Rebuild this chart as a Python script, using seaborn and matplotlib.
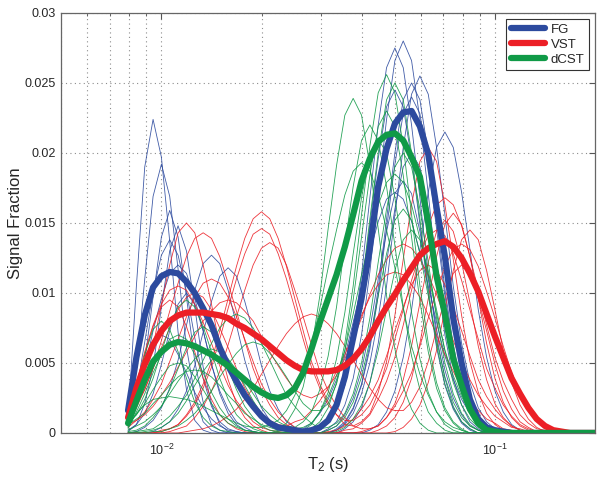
import pandas as pd
import seaborn as sns
import matplotlib
matplotlib.use("Agg")
import matplotlib.pyplot as plt
from matplotlib.lines import Line2D
from matplotlib.ticker import FixedLocator, LogLocator, NullFormatter

# ================================
# 1. Data
# ================================
# T2 sample points (s)
t2 = [0.007943, 0.008414, 0.008913, 0.009441, 0.01, 0.01059, 0.01122, 0.01189, 0.01259, 0.01334,
      0.01413, 0.01496, 0.01585, 0.01679, 0.01778, 0.01884, 0.01995, 0.02113, 0.02239, 0.02371,
      0.02512, 0.02661, 0.02818, 0.02985, 0.03162, 0.0335, 0.03548, 0.03758, 0.03981, 0.04217,
      0.04467, 0.04732, 0.05012, 0.05309, 0.05623, 0.05957, 0.0631, 0.06683, 0.07079, 0.07499,
      0.07943, 0.08414, 0.08913, 0.09441, 0.1, 0.1059, 0.1122, 0.1189, 0.1259, 0.1334,
      0.1413, 0.1496, 0.1585, 0.1679, 0.1778, 0.1884, 0.1995]

# signal fraction, in units of 1e-4
fg_mean = [16, 54, 84, 104, 112, 115, 114, 108, 100, 89, 77, 61, 48, 37, 27, 19, 12, 7, 4, 3,
           2, 1, 2, 4, 9, 20, 40, 68, 96, 132, 176, 203, 221, 229, 230, 219, 199, 161, 126, 82,
           50, 24, 10, 4, 2, 1, 0, 0, 0, 0, 0, 0, 0, 0, 0, 0, 0]
vst_mean = [11, 32, 49, 63, 73, 80, 84, 86, 86, 86, 85, 84, 82, 78, 75, 71, 67, 62, 57, 52,
            48, 45, 44, 44, 44, 45, 48, 53, 60, 69, 80, 90, 99, 109, 118, 127, 132, 135, 137, 133,
            125, 114, 101, 85, 69, 54, 39, 28, 18, 10, 5, 2, 1, 0, 0, 0, 0]
dcst_mean = [7, 23, 38, 51, 58, 63, 65, 64, 62, 59, 56, 52, 48, 43, 38, 33, 29, 26, 25, 27,
             32, 43, 60, 79, 96, 113, 133, 156, 180, 196, 208, 213, 214, 209, 197, 183, 150, 112, 85, 53,
             34, 17, 7, 2, 1, 0, 0, 0, 0, 0, 0, 0, 0, 0, 0, 0, 0]

# individual subjects (units of 1e-4)
fg_curves = [
    [10, 105, 190, 224, 197, 137, 72, 31, 9, 2, 0, 0, 0, 0, 0, 0, 0, 0, 0, 0,
     0, 0, 0, 0, 0, 2, 6, 14, 28, 50, 82, 122, 160, 190, 200, 190, 160, 122, 82, 50,
     28, 14, 6, 2, 0, 0, 0, 0, 0, 0, 0, 0, 0, 0, 0, 0, 0],
    [5, 45, 110, 169, 192, 169, 117, 61, 27, 8, 2, 0, 0, 0, 0, 0, 0, 0, 0, 0,
     0, 0, 0, 0, 2, 5, 13, 25, 45, 74, 110, 144, 171, 180, 171, 144, 110, 74, 45, 25,
     13, 5, 2, 0, 0, 0, 0, 0, 0, 0, 0, 0, 0, 0, 0, 0, 0],
    [6, 22, 51, 97, 140, 159, 140, 97, 51, 22, 6, 2, 0, 0, 0, 0, 0, 0, 0, 0,
     0, 0, 0, 0, 3, 8, 20, 39, 70, 115, 171, 224, 266, 280, 266, 224, 171, 115, 70, 39,
     20, 8, 3, 0, 0, 0, 0, 0, 0, 0, 0, 0, 0, 0, 0, 0, 0],
    [6, 30, 65, 101, 127, 138, 127, 101, 68, 39, 19, 8, 3, 1, 0, 0, 0, 0, 0, 0,
     0, 0, 0, 3, 8, 19, 39, 69, 113, 168, 220, 261, 275, 261, 220, 168, 113, 69, 39, 19,
     8, 3, 0, 0, 0, 0, 0, 0, 0, 0, 0, 0, 0, 0, 0, 0, 0],
    [1, 6, 21, 47, 90, 130, 148, 130, 90, 47, 21, 6, 1, 0, 0, 0, 0, 0, 0, 0,
     0, 0, 0, 0, 0, 0, 3, 8, 18, 36, 64, 105, 156, 204, 242, 255, 242, 204, 156, 105,
     64, 36, 18, 8, 3, 0, 0, 0, 0, 0, 0, 0, 0, 0, 0, 0, 0],
    [5, 22, 46, 73, 96, 114, 120, 114, 96, 73, 49, 30, 17, 8, 4, 1, 0, 0, 0, 0,
     0, 0, 0, 0, 0, 3, 8, 18, 35, 63, 103, 153, 200, 238, 250, 238, 200, 153, 103, 63,
     35, 18, 8, 3, 0, 0, 0, 0, 0, 0, 0, 0, 0, 0, 0, 0, 0],
    [0, 1, 4, 9, 18, 32, 52, 77, 102, 121, 127, 121, 102, 77, 52, 32, 18, 9, 4, 1,
     0, 0, 0, 2, 7, 17, 34, 61, 100, 149, 196, 233, 245, 233, 196, 149, 100, 61, 34, 17,
     7, 2, 0, 0, 0, 0, 0, 0, 0, 0, 0, 0, 0, 0, 0, 0, 0],
    [0, 0, 0, 1, 4, 8, 17, 30, 48, 72, 94, 112, 118, 112, 94, 72, 48, 30, 17, 8,
     4, 1, 0, 0, 0, 0, 0, 0, 0, 2, 6, 15, 30, 54, 88, 131, 172, 204, 215, 204,
     172, 131, 88, 54, 30, 15, 6, 2, 0, 0, 0, 0, 0, 0, 0, 0, 0],
    [2, 6, 14, 28, 49, 73, 92, 100, 92, 73, 49, 28, 14, 6, 2, 1, 0, 0, 0, 0,
     2, 3, 7, 14, 24, 38, 55, 79, 105, 129, 151, 167, 172, 167, 151, 129, 105, 79, 55, 38,
     24, 14, 7, 3, 2, 0, 0, 0, 0, 0, 0, 0, 0, 0, 0, 0, 0],
    [8, 30, 50, 65, 70, 67, 56, 43, 29, 18, 10, 5, 2, 1, 0, 0, 0, 0, 0, 0,
     0, 0, 0, 0, 0, 2, 7, 17, 34, 60, 98, 146, 192, 228, 240, 228, 192, 146, 98, 60,
     34, 17, 7, 2, 0, 0, 0, 0, 0, 0, 0, 0, 0, 0, 0, 0, 0],
]

vst_curves = [
    [11, 21, 38, 62, 92, 120, 143, 150, 143, 120, 92, 62, 38, 21, 11, 5, 2, 0, 0, 0,
     0, 0, 0, 0, 0, 0, 2, 3, 7, 13, 24, 37, 54, 77, 102, 126, 148, 163, 168, 163,
     148, 126, 102, 77, 54, 37, 24, 13, 7, 3, 2, 0, 0, 0, 0, 0, 0],
    [11, 20, 31, 46, 66, 87, 107, 126, 139, 143, 139, 126, 107, 87, 66, 46, 31, 20, 11, 6,
     3, 1, 0, 0, 0, 0, 0, 0, 0, 0, 2, 5, 11, 22, 39, 64, 96, 126, 149, 157,
     149, 126, 96, 64, 39, 22, 11, 5, 2, 0, 0, 0, 0, 0, 0, 0, 0],
    [0, 0, 0, 0, 2, 3, 6, 13, 22, 35, 51, 73, 96, 119, 139, 153, 158, 153, 139, 119,
     96, 73, 51, 35, 22, 13, 6, 5, 8, 14, 29, 51, 84, 124, 163, 194, 204, 194, 163, 124,
     84, 51, 29, 14, 6, 2, 0, 0, 0, 0, 0, 0, 0, 0, 0, 0, 0],
    [0, 0, 0, 0, 1, 3, 6, 12, 20, 32, 47, 67, 89, 110, 128, 142, 146, 142, 128, 110,
     89, 67, 47, 32, 20, 13, 9, 9, 13, 20, 32, 46, 67, 88, 109, 128, 141, 145, 141, 128,
     109, 88, 67, 46, 32, 20, 12, 6, 3, 1, 0, 0, 0, 0, 0, 0, 0],
    [0, 0, 0, 0, 0, 1, 3, 5, 11, 19, 30, 44, 63, 83, 102, 120, 132, 136, 132, 120,
     102, 83, 63, 44, 30, 19, 11, 5, 3, 3, 5, 11, 21, 38, 62, 93, 122, 144, 152, 144,
     122, 93, 62, 38, 21, 11, 5, 2, 0, 0, 0, 0, 0, 0, 0, 0, 0],
    [8, 35, 58, 77, 92, 102, 105, 102, 92, 79, 64, 48, 34, 23, 15, 8, 4, 2, 1, 0,
     0, 0, 0, 0, 0, 0, 0, 0, 1, 3, 5, 11, 19, 30, 43, 62, 82, 101, 119, 131,
     135, 131, 119, 101, 82, 62, 43, 30, 19, 11, 5, 3, 1, 0, 0, 0, 0],
    [5, 18, 31, 46, 61, 75, 88, 97, 100, 97, 88, 75, 61, 46, 32, 22, 14, 9, 6, 5,
     8, 10, 16, 23, 32, 44, 56, 70, 84, 97, 106, 113, 115, 113, 106, 97, 84, 70, 56, 44,
     32, 23, 16, 10, 7, 3, 2, 1, 0, 0, 0, 0, 0, 0, 0, 0, 0],
    [4, 9, 15, 24, 35, 51, 67, 83, 97, 107, 110, 107, 97, 83, 67, 51, 35, 24, 15, 9,
     4, 2, 1, 0, 1, 2, 5, 10, 17, 26, 38, 55, 73, 90, 106, 116, 120, 116, 106, 90,
     73, 55, 38, 26, 17, 10, 5, 2, 1, 0, 0, 0, 0, 0, 0, 0, 0],
    [6, 9, 13, 19, 27, 36, 47, 58, 69, 80, 87, 93, 95, 93, 87, 80, 69, 58, 48, 39,
     31, 27, 25, 28, 33, 41, 53, 67, 82, 99, 113, 124, 132, 135, 132, 124, 113, 99, 82, 66,
     51, 38, 27, 19, 12, 8, 4, 3, 1, 0, 0, 0, 0, 0, 0, 0, 0],
    [6, 32, 56, 76, 90, 95, 90, 76, 58, 39, 24, 13, 7, 3, 1, 0, 0, 0, 0, 0,
     0, 0, 0, 0, 0, 0, 0, 0, 0, 0, 0, 0, 1, 4, 10, 20, 36, 59, 88, 116,
     138, 145, 138, 116, 88, 59, 36, 20, 10, 4, 1, 0, 0, 0, 0, 0, 0],
    [0, 0, 0, 0, 0, 0, 0, 1, 2, 3, 5, 8, 12, 17, 24, 32, 42, 52, 62, 71,
     78, 83, 85, 83, 78, 71, 62, 52, 42, 32, 24, 18, 16, 16, 22, 33, 51, 74, 96, 114,
     120, 114, 96, 73, 49, 30, 17, 8, 4, 1, 0, 0, 0, 0, 0, 0, 0],
]

dcst_curves = [
    [7, 13, 24, 39, 58, 76, 90, 95, 90, 76, 58, 39, 24, 13, 7, 3, 1, 0, 0, 0,
     0, 0, 3, 8, 18, 36, 64, 105, 156, 205, 243, 256, 243, 205, 156, 105, 64, 36, 18, 8,
     3, 0, 0, 0, 0, 0, 0, 0, 0, 0, 0, 0, 0, 0, 0, 0, 0],
    [1, 2, 5, 11, 19, 31, 46, 61, 72, 76, 72, 61, 46, 31, 19, 11, 5, 2, 1, 0,
     0, 0, 0, 3, 8, 18, 35, 63, 103, 153, 200, 238, 250, 238, 200, 153, 103, 63, 35, 18,
     8, 3, 0, 0, 0, 0, 0, 0, 0, 0, 0, 0, 0, 0, 0, 0, 0],
    [7, 13, 21, 31, 40, 48, 50, 48, 40, 31, 21, 13, 7, 4, 2, 1, 0, 0, 2, 7,
     17, 33, 60, 98, 146, 191, 227, 239, 227, 191, 146, 98, 60, 33, 17, 7, 2, 0, 0, 0,
     0, 0, 0, 0, 0, 0, 0, 0, 0, 0, 0, 0, 0, 0, 0, 0, 0],
    [2, 5, 8, 13, 19, 28, 37, 45, 53, 58, 60, 58, 53, 45, 37, 28, 19, 13, 8, 5,
     4, 8, 15, 31, 55, 90, 134, 176, 209, 220, 209, 176, 134, 90, 55, 31, 15, 7, 2, 0,
     0, 0, 0, 0, 0, 0, 0, 0, 0, 0, 0, 0, 0, 0, 0, 0, 0],
    [4, 14, 20, 24, 25, 26, 25, 24, 22, 19, 16, 13, 10, 7, 5, 4, 4, 6, 9, 16,
     27, 42, 62, 89, 118, 145, 170, 187, 193, 187, 170, 145, 118, 89, 62, 42, 27, 15, 8, 4,
     2, 0, 0, 0, 0, 0, 0, 0, 0, 0, 0, 0, 0, 0, 0, 0, 0],
    [0, 1, 2, 3, 7, 12, 19, 27, 39, 52, 64, 75, 82, 85, 82, 75, 64, 52, 39, 27,
     19, 12, 7, 3, 4, 7, 14, 28, 50, 82, 122, 160, 190, 200, 190, 160, 122, 82, 50, 28,
     14, 6, 2, 0, 0, 0, 0, 0, 0, 0, 0, 0, 0, 0, 0, 0, 0],
    [3, 15, 28, 43, 56, 67, 70, 67, 56, 43, 29, 18, 10, 5, 2, 1, 0, 0, 0, 0,
     0, 0, 0, 0, 2, 5, 11, 22, 40, 66, 98, 128, 152, 160, 152, 128, 98, 66, 40, 22,
     11, 5, 2, 0, 0, 0, 0, 0, 0, 0, 0, 0, 0, 0, 0, 0, 0],
    [6, 10, 14, 21, 27, 34, 40, 44, 45, 44, 40, 34, 27, 21, 14, 10, 6, 4, 2, 1,
     0, 0, 0, 0, 0, 1, 4, 10, 20, 36, 59, 88, 116, 138, 145, 138, 116, 88, 59, 36,
     20, 10, 4, 1, 0, 0, 0, 0, 0, 0, 0, 0, 0, 0, 0, 0, 0],
    [0, 0, 0, 1, 1, 3, 5, 9, 14, 21, 30, 40, 49, 57, 63, 65, 63, 57, 49, 40,
     30, 21, 16, 16, 21, 35, 59, 95, 140, 184, 219, 230, 219, 184, 140, 94, 58, 32, 16, 7,
     2, 0, 0, 0, 0, 0, 0, 0, 0, 0, 0, 0, 0, 0, 0, 0, 0],
    [5, 32, 56, 74, 80, 74, 58, 39, 22, 11, 5, 2, 1, 0, 0, 0, 0, 0, 0, 0,
     0, 2, 6, 15, 29, 53, 86, 128, 168, 200, 210, 200, 168, 128, 86, 53, 29, 15, 6, 2,
     0, 0, 0, 0, 0, 0, 0, 0, 0, 0, 0, 0, 0, 0, 0, 0, 0],
    [0, 0, 1, 2, 4, 8, 14, 23, 34, 44, 52, 55, 52, 44, 34, 23, 14, 8, 4, 2,
     3, 4, 7, 15, 26, 41, 59, 85, 113, 139, 163, 179, 185, 179, 163, 139, 113, 85, 59, 41,
     26, 15, 7, 4, 2, 0, 0, 0, 0, 0, 0, 0, 0, 0, 0, 0, 0],
]

groups = ["FG", "VST", "dCST"]
palette = {"FG": "#2c4a9e", "VST": "#ec1f26", "dCST": "#109a47"}
y_ticks = [0, 0.005, 0.01, 0.015, 0.02, 0.025, 0.03]
y_ticklabels = ["0", "0.005", "0.01", "0.015", "0.02", "0.025", "0.03"]

# ================================
# 2. Long-form tables
# ================================
rows = []
for g, curves in zip(groups, [fg_curves, vst_curves, dcst_curves]):
    for k, c in enumerate(curves):
        assert len(c) == len(t2), (g, k, len(c))
        for t, v in zip(t2, c):
            rows.append((g, f"{g}_{k}", t, v / 1e4))
thin_df = pd.DataFrame(rows, columns=["group", "subject", "T2", "frac"])

rows = []
for g, m in zip(groups, [fg_mean, vst_mean, dcst_mean]):
    assert len(m) == len(t2), (g, len(m))
    for t, v in zip(t2, m):
        rows.append((g, t, v / 1e4))
mean_df = pd.DataFrame(rows, columns=["group", "T2", "frac"])

# ================================
# 3. Plot
# ================================
sns.set_style("white")
plt.rcParams["font.family"] = ["Liberation Sans", "DejaVu Sans"]
plt.rcParams["mathtext.fontset"] = "custom"
plt.rcParams["mathtext.rm"] = "Liberation Sans"
plt.rcParams["mathtext.it"] = "Liberation Sans:italic"

fig = plt.figure(figsize=(6.01, 4.84), dpi=100)
ax = fig.add_axes([0.1015, 0.1054, 0.8885, 0.8678])

sns.lineplot(data=thin_df, x="T2", y="frac", hue="group", units="subject",
             estimator=None, palette=palette, lw=0.6, alpha=0.9,
             legend=False, ax=ax)
sns.lineplot(data=mean_df, x="T2", y="frac", hue="group", estimator=None,
             palette=palette, lw=4.5, legend=False, ax=ax)

ax.set_xscale("log")
ax.set_xlim(0.005, 0.1995)
ax.set_ylim(0, 0.03)

ax.xaxis.set_major_locator(FixedLocator([0.01, 0.1]))
ax.xaxis.set_minor_locator(LogLocator(base=10, subs=range(2, 10)))
ax.xaxis.set_minor_formatter(NullFormatter())
ax.set_yticks(y_ticks)
ax.set_yticklabels(y_ticklabels)

ax.tick_params(which="both", direction="in", top=True, right=True,
               labelsize=9, color="#555555")
ax.tick_params(which="major", length=4, pad=4)
ax.tick_params(axis="x", which="major", pad=7)
ax.tick_params(which="minor", length=2.5)

# MATLAB-style sparse dotted grid
grid_kw = dict(linestyle=(0, (1, 3)), color="#8c8c8c", lw=0.8)
ax.grid(True, which="both", axis="x", **grid_kw)
ax.grid(True, which="major", axis="y", **grid_kw)
ax.set_axisbelow(True)
for s in ax.spines.values():
    s.set_color("#666666")
    s.set_linewidth(0.9)

ax.set_xlabel("T$_2$ (s)", fontsize=12, labelpad=-2)
ax.set_ylabel("Signal Fraction", fontsize=12, labelpad=1)

handles = [Line2D([], [], color=palette[g], lw=4.5) for g in groups]
leg = ax.legend(handles, groups, loc="upper right", fontsize=9.5,
                fancybox=False, edgecolor="#333333", framealpha=1,
                handlelength=2.6, handletextpad=0.4, labelspacing=0.2,
                borderpad=0.35, borderaxespad=0.45)
leg.get_frame().set_linewidth(0.8)

fig.savefig("out.png", dpi=100)
